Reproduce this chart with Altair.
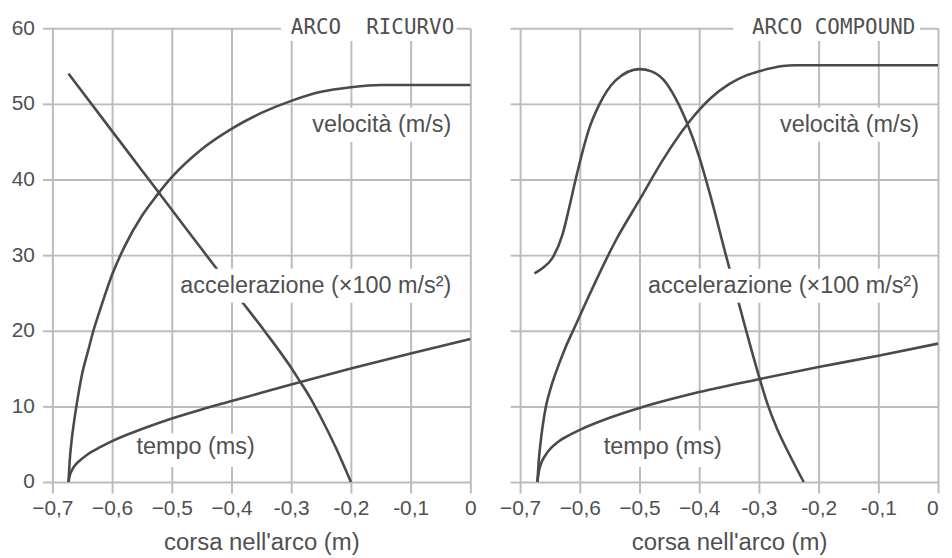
import altair as alt
import pandas as pd

# ---------------- axes ----------------
X_TICKS = [-0.7, -0.6, -0.5, -0.4, -0.3, -0.2, -0.1, 0.0]
X_TICK_LABELS = ["−0,7", "−0,6", "−0,5", "−0,4", "-0,3", "-0,2", "-0,1", "0"]
Y_TICKS = [0, 10, 20, 30, 40, 50, 60]
X_TITLE = "corsa nell'arco (m)"

SERIES = ["velocità", "accelerazione", "tempo"]
LABELS = ["velocità (m/s)", "accelerazione (×100 m/s²)", "tempo (ms)"]
PANEL_TITLES = ["ARCO\u00a0\u00a0RICURVO", "ARCO COMPOUND"]

# ---------------- ARCO RICURVO (left) ----------------
ric_vel_x = [-0.673, -0.671, -0.668, -0.664, -0.660, -0.651, -0.640, -0.632, -0.620, -0.600,
             -0.580, -0.550, -0.526, -0.500, -0.450, -0.400, -0.350, -0.300, -0.250, -0.200,
             -0.150, -0.100, 0.0]
ric_vel_y = [0, 2.8, 5.3, 7.8, 9.9, 14.0, 17.4, 19.8, 22.8, 27.4,
             31.0, 35.2, 37.8, 40.3, 44.0, 46.7, 48.8, 50.4, 51.6, 52.2,
             52.5, 52.5, 52.5]

ric_acc_x = [-0.673, -0.600, -0.550, -0.500, -0.450, -0.420, -0.384, -0.345, -0.300, -0.287,
             -0.270, -0.250, -0.225, -0.200]
ric_acc_y = [54.0, 46.4, 41.2, 36.0, 30.8, 27.7, 24.0, 20.0, 15.1, 13.5,
             11.4, 8.5, 4.5, 0]

ric_time_x = [-0.673, -0.671, -0.667, -0.660, -0.653, -0.640, -0.620, -0.600, -0.550, -0.500,
              -0.450, -0.400, -0.350, -0.300, -0.200, -0.100, 0.0]
ric_time_y = [0, 0.8, 1.6, 2.4, 2.9, 3.7, 4.6, 5.4, 7.0, 8.4,
              9.6, 10.7, 11.8, 12.9, 15.0, 17.0, 18.9]

# ---------------- ARCO COMPOUND (right) ----------------
cmp_vel_x = [-0.671, -0.669, -0.666, -0.662, -0.657, -0.648, -0.640, -0.625, -0.609, -0.590,
             -0.573, -0.540, -0.500, -0.460, -0.419, -0.400, -0.380, -0.350, -0.320, -0.300,
             -0.280, -0.260, -0.240, -0.200, 0.0]
cmp_vel_y = [0, 2.5, 5.0, 7.5, 9.9, 12.6, 14.5, 17.6, 20.4, 23.7,
             26.6, 31.9, 37.3, 42.7, 47.4, 49.2, 50.8, 52.6, 53.8, 54.3,
             54.7, 55.0, 55.1, 55.1, 55.1]

cmp_acc_x = [-0.676, -0.662, -0.646, -0.629, -0.618, -0.607, -0.584, -0.568, -0.540, -0.500,
             -0.480, -0.460, -0.440, -0.420, -0.400, -0.380, -0.356, -0.322, -0.300, -0.286,
             -0.270, -0.250, -0.225]
cmp_acc_y = [27.6, 28.3, 29.6, 32.7, 36.2, 40.0, 46.8, 49.8, 53.1, 54.6,
             54.3, 53.2, 50.8, 47.4, 43.0, 37.5, 30.2, 20.2, 14.0, 10.4,
             7.1, 3.8, 0]

cmp_time_x = [-0.671, -0.669, -0.665, -0.658, -0.648, -0.635, -0.620, -0.600, -0.550, -0.500,
              -0.450, -0.400, -0.300, -0.200, -0.100, 0.0]
cmp_time_y = [0, 1.2, 2.4, 3.5, 4.5, 5.4, 6.1, 6.9, 8.5, 9.8,
              10.9, 11.9, 13.6, 15.2, 16.7, 18.3]

# ---------------- annotations (data units) ----------------
# label anchors: velocità, accelerazione (right aligned), tempo (centered)
ric_label_x = [-0.032, -0.032, -0.460]
ric_label_y = [47.2, 25.9, 4.6]
cmp_label_x = [-0.032, -0.032, -0.461]
cmp_label_y = [47.2, 25.9, 4.6]
ric_title_x, ric_title_y = -0.027, 60
cmp_title_x, cmp_title_y = -0.038, 60
# white boxes behind: title, velocità, accelerazione, tempo
ric_box_x1 = [-0.317, -0.273, -0.482, -0.558]
ric_box_x2 = [-0.023, -0.023, -0.023, -0.353]
ric_box_y1 = [58.3, 45.0, 23.7, 2.0]
ric_box_y2 = [62.0, 49.5, 28.2, 6.4]
cmp_box_x1 = [-0.343, -0.271, -0.479, -0.567]
cmp_box_x2 = [-0.030, -0.023, -0.023, -0.354]
cmp_box_y1 = [58.3, 45.0, 23.7, 2.0]
cmp_box_y2 = [62.0, 49.5, 28.2, 6.8]

TEXT = "#505050"
GRID = "#bcbcbc"
LINE = "#4a4a4a"
FONT = "Liberation Sans"
MONO = "'DejaVu Sans Mono', monospace"


def curves_df(vx, vy, ax, ay, tx, ty):
    rows = []
    for name, xs, ys in [(SERIES[0], vx, vy), (SERIES[1], ax, ay), (SERIES[2], tx, ty)]:
        for i, (a, b) in enumerate(zip(xs, ys)):
            rows.append({"x": a, "y": b, "s": name, "o": i})
    return pd.DataFrame(rows)


label_expr = "[" + ",".join("'" + t + "'" for t in X_TICK_LABELS) + "][round((datum.value + 0.7) * 10)]"


def panel(df, lab_x, lab_y, title, tx, ty, bx1, bx2, by1, by2, show_labels, flush_last):
    xs = alt.Scale(domain=[-0.7, 0], nice=False, zero=False)
    ys = alt.Scale(domain=[0, 60], nice=False)
    xax_kw = dict(values=X_TICKS, labelExpr=label_expr, title=X_TITLE, grid=True,
                  domain=False, tickSize=11, labelFlush=False, labelPadding=5,
                  titlePadding=12)
    if flush_last:
        xax_kw["labelAlign"] = {"condition": {"test": "datum.value === 0", "value": "right"},
                                "value": "center"}
    xax = alt.Axis(**xax_kw)
    yax = alt.Axis(values=Y_TICKS, title=None, grid=True, domain=False, tickSize=10,
                   labels=show_labels, labelPadding=8, labelFlush=False)

    lines = alt.Chart(df).mark_line(color=LINE, strokeWidth=2.6, interpolate="monotone").encode(
        x=alt.X("x:Q", scale=xs, axis=xax),
        y=alt.Y("y:Q", scale=ys, axis=yax),
        detail="s:N",
        order="o:Q",
    )

    boxes = alt.Chart(pd.DataFrame({"x1": bx1, "x2": bx2, "y1": by1, "y2": by2})).mark_rect(
        color="white").encode(
        x=alt.X("x1:Q", scale=xs, axis=xax), x2="x2:Q",
        y=alt.Y("y1:Q", scale=ys, axis=yax), y2="y2:Q",
    )

    right_labels = alt.Chart(pd.DataFrame({"x": lab_x[:2], "y": lab_y[:2], "t": LABELS[:2]})).mark_text(
        align="right", baseline="middle", font=FONT, fontSize=23.5, color=TEXT).encode(
        x=alt.X("x:Q", scale=xs, axis=xax), y=alt.Y("y:Q", scale=ys, axis=yax), text="t:N")

    center_labels = alt.Chart(pd.DataFrame({"x": lab_x[2:], "y": lab_y[2:], "t": LABELS[2:]})).mark_text(
        align="center", baseline="middle", font=FONT, fontSize=23.5, color=TEXT).encode(
        x=alt.X("x:Q", scale=xs, axis=xax), y=alt.Y("y:Q", scale=ys, axis=yax), text="t:N")

    title_txt = alt.Chart(pd.DataFrame({"x": [tx], "y": [ty], "t": [title]})).mark_text(
        align="right", baseline="middle", font=MONO, fontSize=21, color=TEXT).encode(
        x=alt.X("x:Q", scale=xs, axis=xax), y=alt.Y("y:Q", scale=ys, axis=yax), text="t:N")

    return alt.layer(lines, boxes, right_labels, center_labels, title_txt).properties(
        width=420, height=456)


left = panel(curves_df(ric_vel_x, ric_vel_y, ric_acc_x, ric_acc_y, ric_time_x, ric_time_y),
             ric_label_x, ric_label_y, PANEL_TITLES[0], ric_title_x, ric_title_y,
             ric_box_x1, ric_box_x2, ric_box_y1, ric_box_y2, True, False)
right = panel(curves_df(cmp_vel_x, cmp_vel_y, cmp_acc_x, cmp_acc_y, cmp_time_x, cmp_time_y),
              cmp_label_x, cmp_label_y, PANEL_TITLES[1], cmp_title_x, cmp_title_y,
              cmp_box_x1, cmp_box_x2, cmp_box_y1, cmp_box_y2, False, True)

chart = alt.hconcat(left, right, spacing=50, bounds="flush").properties(
    padding={"left": 2.6, "top": 3, "right": 0, "bottom": 0}
).configure_view(stroke=None).configure_axis(
    gridColor=GRID, gridWidth=2, tickColor=GRID, tickWidth=2,
    labelFont=FONT, labelFontSize=21, labelColor=TEXT,
    titleFont=FONT, titleFontSize=24, titleFontWeight="normal", titleColor=TEXT,
)

chart.save("out.html", embed_options={"renderer": "svg", "actions": False})
